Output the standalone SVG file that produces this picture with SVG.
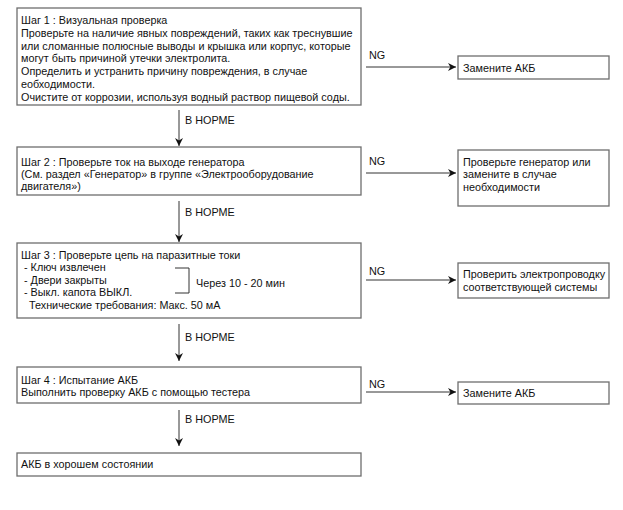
<svg xmlns="http://www.w3.org/2000/svg" width="623" height="510" viewBox="0 0 623 510">
<style>
.box{fill:#fff;stroke:#6e6e6e;stroke-width:1.3}
text{font-family:"Liberation Sans",Arial,sans-serif;font-size:10.8px;fill:#111}
.ln{stroke:#333;stroke-width:1;fill:none}
</style>
<defs>
<marker id="ah" viewBox="0 0 10 10" refX="10" refY="5" markerWidth="8" markerHeight="8" markerUnits="userSpaceOnUse" orient="auto">
<path d="M0,0 L10,5 L0,10 L3,5 Z" fill="#111"/>
</marker>
</defs>
<rect width="623" height="510" fill="#fff"/>
<g id="step1">
<rect class="box" x="17" y="8" width="344" height="97"/>
<text x="21" y="24">Шаг 1 : Визуальная проверка</text>
<text x="21" y="37">Проверьте на наличие явных повреждений, таких как треснувшие</text>
<text x="21" y="49.5">или сломанные полюсные выводы и крышка или корпус, которые</text>
<text x="21" y="62">могут быть причиной утечки электролита.</text>
<text x="21" y="75">Определить и устранить причину повреждения, в случае</text>
<text x="21" y="87.5">еобходимости.</text>
<text x="21" y="100.5">Очистите от коррозии, используя водный раствор пищевой соды.</text>
</g>
<g id="ng1">
<rect class="box" x="458" y="56" width="151" height="23"/>
<text x="463" y="72">Замените АКБ</text>
</g>
<g id="step2">
<rect class="box" x="17" y="147" width="344" height="48"/>
<text x="21" y="166">Шаг 2 : Проверьте ток на выходе генератора</text>
<text x="21" y="178">(См. раздел «Генератор» в группе «Электрооборудование</text>
<text x="21" y="190">двигателя»)</text>
</g>
<g id="ng2">
<rect class="box" x="458" y="150" width="151" height="56"/>
<text x="463" y="166">Проверьте генератор или</text>
<text x="463" y="178">замените в случае</text>
<text x="463" y="191">необходимости</text>
</g>
<g id="step3">
<rect class="box" x="17" y="243" width="344" height="75"/>
<text x="21" y="259">Шаг 3 : Проверьте цепь на паразитные токи</text>
<text x="24" y="271">- Ключ извлечен</text>
<text x="24" y="283.5">- Двери закрыты</text>
<text x="24" y="296">- Выкл. капота ВЫКЛ.</text>
<text x="29" y="309">Технические требования: Макс. 50 мА</text>
<path class="ln" d="M175,268 H189 V293 H175"/>
<text x="196" y="287">Через 10 - 20 мин</text>
</g>
<g id="ng3">
<rect class="box" x="458" y="263" width="151" height="35"/>
<text x="463" y="278">Проверить электропроводку</text>
<text x="463" y="291">соответствующей системы</text>
</g>
<g id="step4">
<rect class="box" x="17" y="367" width="344" height="36"/>
<text x="21" y="384">Шаг 4 : Испытание АКБ</text>
<text x="21" y="396">Выполнить проверку АКБ с помощью тестера</text>
</g>
<g id="ng4">
<rect class="box" x="458" y="382" width="151" height="22"/>
<text x="463" y="397">Замените АКБ</text>
</g>
<g id="result">
<rect class="box" x="17" y="453" width="344" height="23"/>
<text x="21" y="468">АКБ в хорошем состоянии</text>
</g>
<g id="connectors">
<path class="ln" d="M366,67 H456" marker-end="url(#ah)"/>
<text x="369" y="59">NG</text>
<path class="ln" d="M179,110 V146" marker-end="url(#ah)"/>
<text x="185" y="124">В НОРМЕ</text>
<path class="ln" d="M366,173 H456" marker-end="url(#ah)"/>
<text x="369" y="165">NG</text>
<path class="ln" d="M179,201 V242" marker-end="url(#ah)"/>
<text x="185" y="216">В НОРМЕ</text>
<path class="ln" d="M366,280 H456" marker-end="url(#ah)"/>
<text x="369" y="275">NG</text>
<path class="ln" d="M179,324 V361" marker-end="url(#ah)"/>
<text x="185" y="341">В НОРМЕ</text>
<path class="ln" d="M366,392 H456" marker-end="url(#ah)"/>
<text x="369" y="388">NG</text>
<path class="ln" d="M179,410 V446" marker-end="url(#ah)"/>
<text x="185" y="423">В НОРМЕ</text>
</g>
</svg>
